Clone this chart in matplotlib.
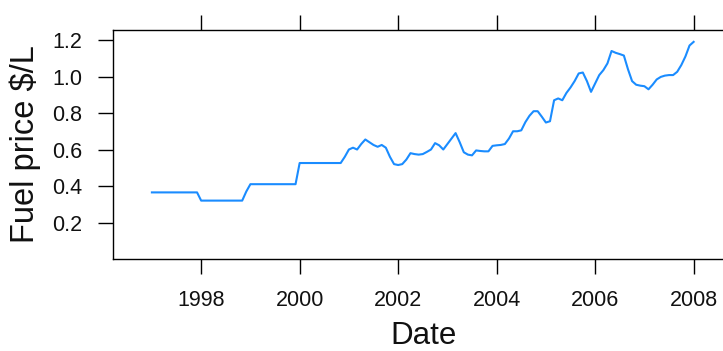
import numpy as np
import matplotlib
matplotlib.use('Agg')
import matplotlib.pyplot as plt

# Monthly fuel price ($/L), Jan 1997 .. Jan 2008
price = [
    0.365, 0.365, 0.365, 0.365, 0.365, 0.365, 0.365, 0.365, 0.365, 0.365, 0.365, 0.365,  # 1997
    0.32, 0.32, 0.32, 0.32, 0.32, 0.32, 0.32, 0.32, 0.32, 0.32, 0.32, 0.37,             # 1998
    0.41, 0.41, 0.41, 0.41, 0.41, 0.41, 0.41, 0.41, 0.41, 0.41, 0.41, 0.41,             # 1999
    0.526, 0.526, 0.526, 0.526, 0.526, 0.526, 0.526, 0.526, 0.526, 0.526, 0.526, 0.56,  # 2000
    0.60, 0.61, 0.60, 0.63, 0.655, 0.64, 0.625, 0.615, 0.625, 0.61, 0.56, 0.52,         # 2001
    0.515, 0.52, 0.545, 0.58, 0.575, 0.572, 0.575, 0.587, 0.60, 0.635, 0.623, 0.60,     # 2002
    0.63, 0.66, 0.69, 0.64, 0.585, 0.572, 0.568, 0.595, 0.592, 0.59, 0.59, 0.62,        # 2003
    0.623, 0.625, 0.63, 0.66, 0.70, 0.70, 0.705, 0.75, 0.785, 0.81, 0.81, 0.78,         # 2004
    0.748, 0.755, 0.87, 0.88, 0.87, 0.91, 0.94, 0.975, 1.017, 1.022, 0.975, 0.916,      # 2005
    0.962, 1.008, 1.035, 1.072, 1.14, 1.13, 1.123, 1.115, 1.04, 0.975, 0.955, 0.95,     # 2006
    0.947, 0.93, 0.955, 0.984, 0.998, 1.005, 1.008, 1.008, 1.026, 1.063, 1.11, 1.17,    # 2007
    1.19,                                                                                # 2008
]
start_year = 1997
x_ticks = [1998, 2000, 2002, 2004, 2006, 2008]
y_ticks = [0.2, 0.4, 0.6, 0.8, 1.0, 1.2]

dates = start_year + np.arange(len(price)) / 12

plt.rcParams['font.family'] = ['Liberation Sans', 'DejaVu Sans']

W, H = 723, 351
fig = plt.figure(figsize=(W / 100, H / 100), dpi=100)
# axes box in pixels: left 113, right 735 (past the image edge), top 30, bottom 259
ax = fig.add_axes([113 / W, (H - 259) / H, (735 - 113) / W, (259 - 30) / H])

ax.plot(dates, price, color='#1a8cff', lw=1.5)

ax.set_xlim(1996.21, 2008.84)
ax.set_ylim(0.0, 1.255)
ax.set_xticks(x_ticks)
ax.set_xticklabels([str(t) for t in x_ticks])
ax.set_yticks(y_ticks)
ax.set_yticklabels(['%.1f' % t for t in y_ticks])

for s in ax.spines.values():
    s.set_linewidth(1.0)
    s.set_color('black')

ax.tick_params(direction='out', length=11, width=1.0, color='black',
               labelsize=15.5, labelcolor='#111111', pad=11,
               top=True, right=True, labeltop=False, labelright=False)

ax.set_xlabel('Date', fontsize=22.5, color='#111111', va='center')
ax.xaxis.set_label_coords(0.5, (259 - 336) / 229)
ax.set_ylabel(r'Fuel price \$/L', fontsize=23.5, color='#111111', va='center')
ax.yaxis.set_label_coords((25 - 113) / 622, 0.5)

fig.savefig('out.png', dpi=100)
